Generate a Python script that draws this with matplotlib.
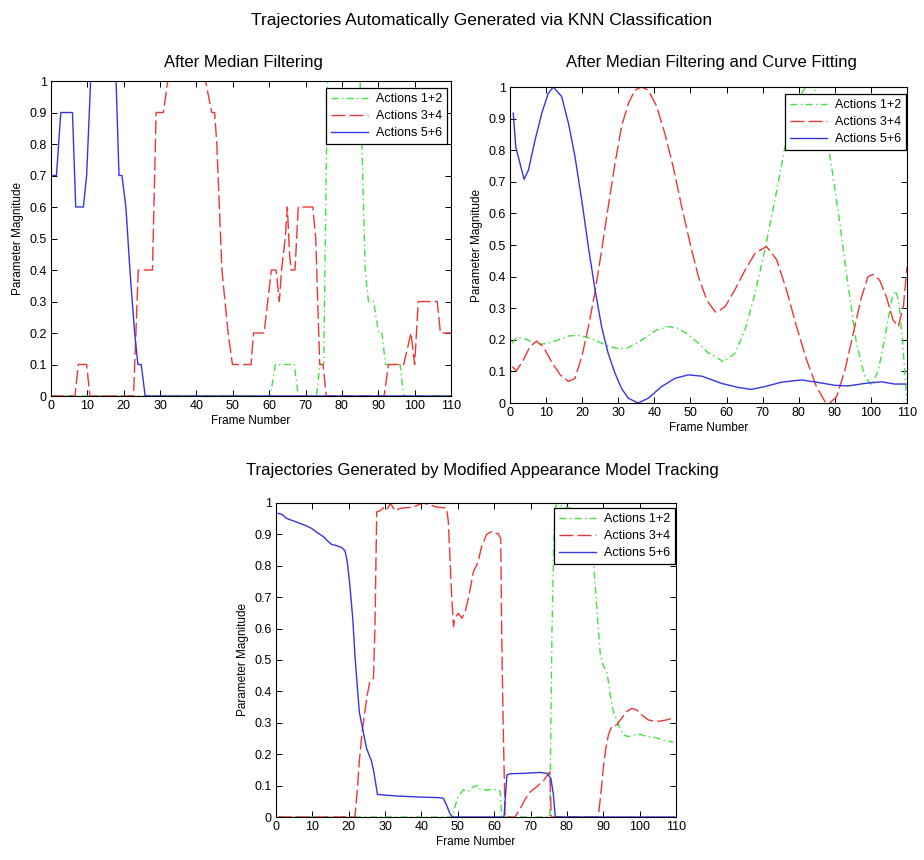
import matplotlib
matplotlib.use("Agg")
import matplotlib.pyplot as plt
from matplotlib.ticker import FixedLocator, FuncFormatter
from matplotlib import font_manager

names = {f.name for f in font_manager.fontManager.ttflist}
FAM = ['Liberation Sans Narrow', 'Liberation Sans', 'DejaVu Sans'] if 'Liberation Sans Narrow' in names else ['Liberation Sans', 'DejaVu Sans']
plt.rcParams['font.family'] = FAM

labels = ["Actions 1+2", "Actions 3+4", "Actions 5+6"]
colors = ["#3fe33f", "#ee3535", "#3535e6"]

# ---- Panel 1: After Median Filtering ----
p1_g_x = [0, 60.3, 61.7, 66.9, 68, 73, 74, 75, 76, 85, 85.5, 86.4, 87.3, 88.7, 90.1, 91, 92, 96, 97, 110]
p1_g_y = [0, 0, 0.1, 0.1, 0, 0, 0.1, 0.1, 1.0, 1.0, 0.8, 0.4, 0.3, 0.3, 0.2, 0.2, 0.1, 0.1, 0, 0]
p1_r_x = [0, 6.6, 7.5, 9.8, 10.7, 22.7, 24, 27.9, 28.9, 30.9, 32.1, 42.5, 44.2, 45, 45.6, 47, 48.7, 49.9,
          55, 55.7, 58.6, 60.6, 61.9, 62.8, 63.4, 64.4, 65, 65.6, 66, 67.1, 68, 72, 72.8, 73.9, 74.8,
          75.7, 91.6, 92.8, 97, 99, 100, 101, 106.2, 107.1, 110]
p1_r_y = [0, 0, 0.1, 0.1, 0, 0, 0.4, 0.4, 0.9, 0.9, 1.0, 1.0, 0.9, 0.9, 0.8, 0.4, 0.2, 0.1,
          0.1, 0.2, 0.2, 0.4, 0.4, 0.3, 0.4, 0.5, 0.6, 0.45, 0.4, 0.4, 0.6, 0.6, 0.5, 0.1, 0.1,
          0, 0, 0.1, 0.1, 0.2, 0.1, 0.3, 0.3, 0.2, 0.2]
p1_b_x = [0, 1.5, 2.7, 5.9, 6.8, 8.9, 9.8, 10.9, 17.9, 18.7, 19.5, 20.6, 21.7, 23, 23.9, 24.8, 25.9, 110]
p1_b_y = [0.7, 0.7, 0.9, 0.9, 0.6, 0.6, 0.7, 1.0, 1.0, 0.7, 0.7, 0.6, 0.4, 0.2, 0.1, 0.1, 0, 0]

# ---- Panel 2: After Median Filtering and Curve Fitting ----
p2_g_x = [0.6, 1.8, 3.7, 6, 8.3, 10.6, 13.4, 16.2, 18.9, 21.7, 24.5, 27.2, 30, 32.3, 35.1, 37.9, 40.6,
          43.9, 46.6, 49.4, 52.2, 54.9, 56.8, 59.1, 62.3, 65.1, 67.9, 70.6, 73.4, 76.2, 78.9, 81.7,
          83.1, 84.5, 86.8, 89.1, 91.4, 93.7, 96, 98.3, 100.2, 102.1, 103.9, 105.7, 106.8, 107.7,
          108.9, 109.9]
p2_g_y = [0.189, 0.208, 0.205, 0.194, 0.186, 0.189, 0.2, 0.212, 0.214, 0.207, 0.194, 0.18, 0.172,
          0.173, 0.189, 0.21, 0.231, 0.242, 0.236, 0.217, 0.189, 0.159, 0.147, 0.131, 0.157, 0.231,
          0.347, 0.484, 0.642, 0.811, 0.943, 0.996, 1.02, 0.99, 0.906, 0.748, 0.568, 0.368, 0.189,
          0.083, 0.057, 0.104, 0.21, 0.326, 0.355, 0.326, 0.178, 0.01]
p2_r_x = [0.6, 1.8, 3.7, 5.5, 7.4, 9.2, 11.5, 13.9, 16.2, 18, 19.9, 21.7, 23.5, 25.4, 27.2, 29.1,
          30.9, 32.8, 34.6, 36.5, 38.3, 40.6, 42.9, 45.2, 47.6, 49.9, 52.2, 54.5, 56.8, 57.3, 59.6,
          62.3, 65.1, 67.9, 71.1, 73.9, 76.6, 79.4, 82.2, 84.9, 87.3, 88.6, 90.5, 92.8, 95.1, 97.4,
          99.2, 100.6, 102.4, 104.3, 106.1, 107.6, 109, 110]
p2_r_y = [0.115, 0.102, 0.136, 0.178, 0.196, 0.178, 0.131, 0.089, 0.068, 0.078, 0.147, 0.24, 0.347,
          0.484, 0.62, 0.758, 0.875, 0.948, 0.99, 1.0, 0.99, 0.94, 0.853, 0.748, 0.62, 0.505, 0.4,
          0.326, 0.289, 0.287, 0.305, 0.358, 0.42, 0.474, 0.495, 0.453, 0.358, 0.242, 0.136, 0.052,
          0.004, 0.0, 0.02, 0.104, 0.22, 0.336, 0.4, 0.407, 0.389, 0.336, 0.263, 0.242, 0.305, 0.43]
p2_b_x = [0.9, 1.6, 3.9, 5.1, 6.9, 8.8, 10.6, 12, 14.3, 16.2, 18, 19.9, 21.7, 23.5, 25.4, 27.2,
          29.1, 30.9, 32.8, 35.5, 38.3, 42, 45.7, 49.4, 53.1, 56.8, 58.6, 63.3, 66.9, 70.6, 75.3,
          80.8, 85.4, 90, 93.7, 98.3, 102.9, 106.6, 109.7]
p2_b_y = [0.917, 0.81, 0.708, 0.737, 0.83, 0.917, 0.98, 1.0, 0.97, 0.885, 0.78, 0.64, 0.495, 0.363,
          0.24, 0.157, 0.094, 0.046, 0.015, 0.0, 0.015, 0.052, 0.078, 0.089, 0.085, 0.07, 0.062,
          0.049, 0.043, 0.052, 0.066, 0.073, 0.065, 0.056, 0.054, 0.062, 0.067, 0.06, 0.06]

# ---- Panel 3: Modified Appearance Model Tracking ----
p3_g_x = [0.6, 48.5, 49.2, 50.1, 51.5, 52.9, 54.3, 55.6, 56.1, 57.9, 59.7, 61.6, 62.1, 75.3, 75.9,
          76.5, 77, 78.6, 80.5, 82.3, 84.2, 86, 87.3, 88.3, 89.2, 90.1, 91, 91.9, 92.8, 94.2, 95.6,
          96.9, 98.3, 100.2, 102, 104.3, 106.5, 109.3]
p3_g_y = [0, 0, 0.033, 0.065, 0.086, 0.081, 0.097, 0.1, 0.088, 0.086, 0.088, 0.084, 0, 0, 0.6,
          0.919, 0.994, 0.99, 0.985, 0.978, 0.951, 0.909, 0.813, 0.654, 0.516, 0.479, 0.463, 0.389,
          0.335, 0.293, 0.261, 0.256, 0.261, 0.263, 0.256, 0.253, 0.245, 0.238]
p3_r_x = [0.6, 21.7, 22.4, 22.9, 23.6, 24.3, 25.1, 25.8, 26.8, 27.2, 27.7, 28.6, 29.5, 30.4, 31.5,
          32.7, 34.1, 35.9, 37.8, 39.1, 40.5, 42.3, 44.2, 46, 46.9, 47.4, 48.3, 48.8, 49.2, 50.1,
          51.1, 52, 52.9, 54.3, 55.6, 56.5, 57.9, 59.3, 60.2, 61.1, 61.8, 62.1, 62.5, 63, 65.7,
          67.2, 68.7, 70, 71.8, 73.7, 75.3, 75.7, 88.6, 89.3, 90, 90.7, 91.4, 92.3, 93.7, 95, 96.4,
          97.8, 99.2, 100.6, 102.4, 104.7, 107.4, 109.2]
p3_r_y = [0, 0, 0.091, 0.176, 0.261, 0.325, 0.389, 0.431, 0.442, 0.6, 0.972, 0.975, 0.985, 0.978,
          0.999, 0.975, 0.983, 0.985, 0.987, 0.994, 1.0, 0.994, 0.987, 0.985, 0.983, 0.94, 0.707,
          0.606, 0.633, 0.649, 0.633, 0.654, 0.696, 0.781, 0.813, 0.86, 0.9, 0.909, 0.903, 0.903,
          0.887, 0.558, 0.28, 0, 0, 0.028, 0.06, 0.081, 0.097, 0.118, 0.144, 0, 0, 0.07, 0.155,
          0.219, 0.261, 0.288, 0.293, 0.314, 0.335, 0.346, 0.341, 0.325, 0.309, 0.304, 0.309, 0.316]
p3_b_x = [0.6, 1.6, 2.9, 4.8, 6.6, 8.4, 9.8, 11.2, 13, 14.4, 15.3, 16.7, 18.1, 19, 19.6, 20.3, 21.1,
          21.7, 22.4, 22.9, 23.8, 24.9, 26.3, 26.9, 27.9, 29.5, 33.2, 36.8, 40.5, 44.2, 46, 46.9,
          47.8, 48.5, 62.7, 63.5, 64.5, 68.1, 72.7, 74.5, 75.6, 76.3, 76.8, 109.6]
p3_b_y = [0.967, 0.964, 0.951, 0.943, 0.935, 0.927, 0.919, 0.907, 0.893, 0.877, 0.868, 0.864, 0.858,
          0.847, 0.813, 0.739, 0.633, 0.516, 0.41, 0.335, 0.282, 0.219, 0.176, 0.144, 0.072, 0.07,
          0.067, 0.065, 0.063, 0.062, 0.06, 0.038, 0.012, 0, 0, 0.134, 0.138, 0.139, 0.142, 0.139,
          0.123, 0.07, 0, 0]

xticks = list(range(0, 111, 10))
yticks = [round(0.1 * i, 1) for i in range(11)]

styles = [dict(ls=(0, (5, 2.5, 1, 2.5))), dict(ls=(0, (10, 3))), dict(ls='-')]


def fmt(v, pos):
    if abs(v) < 1e-9:
        return '0'
    if abs(v - 1) < 1e-9:
        return '1'
    return ('%.1f' % v)


def panel(ax, series, leg_dx, leg_dy):
    for (xs, ys), lab, c, st in zip(series, labels, colors, styles):
        ax.plot(xs, ys, color=c, lw=1.0, label=lab, **st)
    ax.set_xlim(0, 110)
    ax.set_ylim(0, 1)
    ax.xaxis.set_major_locator(FixedLocator(xticks))
    ax.yaxis.set_major_locator(FixedLocator(yticks))
    ax.yaxis.set_major_formatter(FuncFormatter(fmt))
    ax.tick_params(direction='in', top=True, right=True, length=4, width=0.7,
                   labelsize=9, pad=3)
    for s in ax.spines.values():
        s.set_linewidth(0.8)
    ax.set_xlabel('Frame Number', fontsize=8.5, labelpad=2)
    ax.set_ylabel('Parameter Magnitude', fontsize=8.5, labelpad=4)
    bb = ax.get_position()
    ax_w = bb.width * 924.0
    ax_h = bb.height * 860.0
    leg = ax.legend(loc='upper right', bbox_to_anchor=(1 - leg_dx / ax_w, 1 - leg_dy / ax_h),
                    borderaxespad=0, fontsize=9, fancybox=False, framealpha=1,
                    edgecolor='black', handlelength=3.0, borderpad=0.4,
                    labelspacing=0.4, handletextpad=0.6)
    leg.get_frame().set_linewidth(0.9)


fig = plt.figure(figsize=(9.24, 8.6), dpi=100)
W, H = 924.0, 860.0
ax1 = fig.add_axes([51 / W, 1 - 396 / H, 400 / W, 315 / H])
ax2 = fig.add_axes([510 / W, 1 - 403 / H, 397 / W, 316 / H])
ax3 = fig.add_axes([276 / W, 1 - 817 / H, 400 / W, 314 / H])

panel(ax1, [(p1_g_x, p1_g_y), (p1_r_x, p1_r_y), (p1_b_x, p1_b_y)], 4, 7)
panel(ax2, [(p2_g_x, p2_g_y), (p2_r_x, p2_r_y), (p2_b_x, p2_b_y)], 1, 7)
panel(ax3, [(p3_g_x, p3_g_y), (p3_r_x, p3_r_y), (p3_b_x, p3_b_y)], 1, 5)

fig.text(482 / W, 1 - 20 / H, 'Trajectories Automatically Generated via KNN Classification',
         ha='center', va='center', fontsize=12.5)
fig.text(243 / W, 1 - 62 / H, 'After Median Filtering', ha='center', va='center', fontsize=12)
fig.text(711 / W, 1 - 62 / H, 'After Median Filtering and Curve Fitting', ha='center',
         va='center', fontsize=12)
fig.text(482 / W, 1 - 470 / H, 'Trajectories Generated by Modified Appearance Model Tracking',
         ha='center', va='center', fontsize=12)

fig.savefig('out.png', dpi=100, facecolor='white')
